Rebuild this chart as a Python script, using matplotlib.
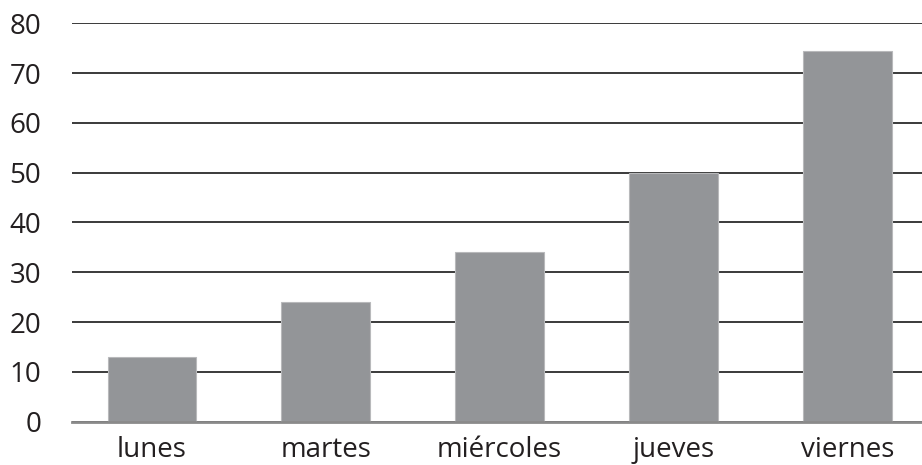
import matplotlib
matplotlib.use("Agg")
import matplotlib.pyplot as plt

dias = ["lunes", "martes", "miércoles", "jueves", "viernes"]
valores = [13, 24, 34, 50, 74.5]
yticks = [0, 10, 20, 30, 40, 50, 60, 70, 80]

plt.rcParams['font.family'] = ['Open Sans', 'DejaVu Sans']

fig = plt.figure(figsize=(9.22, 4.65), dpi=100)
ax = fig.add_axes([0.078, 0.0931, 0.922, 0.8569])

ax.bar(range(len(dias)), valores, width=0.51, color="#939598",
       edgecolor="#b8b9bb", linewidth=0.8, zorder=3)

ax.set_xlim(-0.46, 4.43)
ax.set_ylim(0, 80)
ax.set_yticks(yticks)
ax.set_xticks(range(len(dias)))
ax.set_xticklabels(dias)

ax.yaxis.grid(True, color="#3a3a3a", linewidth=1.4, zorder=1)
ax.set_axisbelow(True)
for s in ["top", "right", "left"]:
    ax.spines[s].set_visible(False)
ax.spines["bottom"].set_color("#8a8a8a")
ax.spines["bottom"].set_linewidth(2)
ax.spines["bottom"].set_zorder(4)

ax.tick_params(axis="y", length=0, pad=22, labelsize=20, labelcolor="#231f20")
ax.tick_params(axis="x", length=0, pad=10, labelsize=20, labelcolor="#231f20")

fig.savefig("out.png", dpi=100)
